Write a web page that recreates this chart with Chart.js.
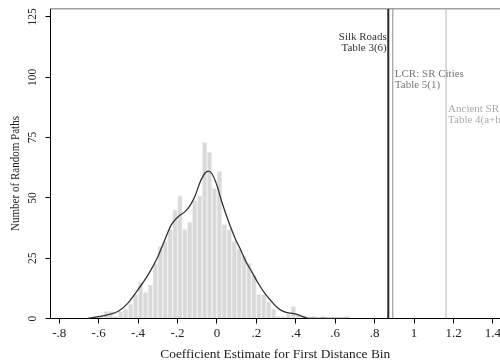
<!DOCTYPE html>
<html><head><meta charset="utf-8">
<script src="https://cdn.jsdelivr.net/npm/chart.js@4.4.1/dist/chart.umd.min.js"></script>
<style>html,body{margin:0;padding:0;background:#fff;overflow:hidden}</style>
</head><body>
<canvas id="c" width="500" height="364"></canvas>
<script>
// ---- data ----
const binStart = -0.625;
const binWidth = 0.025;
const binCounts = [1,1,3,3,1,3,4,6,10,15,11,14,23,30,32,37,45,51,37,40,49,51,73,69,54,61,39,37,32,29,26,23,18,10,10,7,4,1,1,2,5,2,1,0,1,0,1,0,0,0,0,1];
const densityX = [-0.655,-0.6,-0.55,-0.5,-0.45,-0.4,-0.35,-0.3,-0.26,-0.23,-0.195,-0.16,-0.135,-0.11,-0.085,-0.06,-0.043,-0.025,0,0.025,0.06,0.093,0.118,0.144,0.178,0.211,0.245,0.28,0.313,0.347,0.39,0.423,0.46,0.5,0.66];
const densityY = [0,0.8,1.6,3.0,6.5,12,18,25.5,33.5,39,42.3,44.4,47,51,56.6,60.3,61.1,60,55.2,48.3,40,33.1,28.9,24.1,19.2,14.4,10.2,6.8,4.0,2.6,2.0,1.2,0.2,0,0];
const refValues = [0.869, 0.892, 1.162];
const refNames = ['Silk Roads', 'LCR: SR Cities', 'Ancient SR'];
const refTables = ['Table 3(6)', 'Table 5(1)', 'Table 4(a+b)'];
const xTicks = [-0.8,-0.6,-0.4,-0.2,0,0.2,0.4,0.6,0.8,1,1.2,1.4];
const xTickLabels = ['-.8','-.6','-.4','-.2','0','.2','.4','.6','.8','1','1.2','1.4'];
const yTicks = [0,25,50,75,100,125];
const xTitle = 'Coefficient Estimate for First Distance Bin';
const yTitle = 'Number of Random Paths';

// ---- build ----
const X_MIN = -0.844, X_MAX = 1.4356, Y_MIN = 0, Y_MAX = 128.3;
const FONT = 'Liberation Serif';
const barData = [];
binCounts.forEach((c, i) => { if (c > 0) barData.push({x: binStart + (i + 0.5) * binWidth, y: c}); });
const densityData = densityX.map((x, i) => ({x, y: densityY[i]}));
const refStyles = [
  {line: '#2a2a2a', w: 2, text: '#333333', align: 'right', dx: -1.5, y: 116.6},
  {line: '#8a8a8a', w: 1, text: '#777777', align: 'left', dx: 2, y: 101.5},
  {line: '#b4b4b4', w: 1, text: '#aaaaaa', align: 'left', dx: 2, y: 86.6}
];
const refDatasets = refValues.map((v, i) => ({
  type: 'line', data: [{x: v, y: Y_MIN}, {x: v, y: Y_MAX}],
  borderColor: refStyles[i].line, borderWidth: refStyles[i].w, pointRadius: 0, order: 0
}));

const labelPlugin = {
  id: 'refLabels',
  afterDatasetsDraw(chart) {
    const {ctx, scales: {x, y}} = chart;
    ctx.save();
    ctx.font = '11px "' + FONT + '"';
    ctx.textBaseline = 'middle';
    refValues.forEach((v, i) => {
      const s = refStyles[i];
      const px = x.getPixelForValue(v) + s.dx;
      const py = y.getPixelForValue(s.y);
      ctx.fillStyle = s.text;
      ctx.textAlign = s.align;
      ctx.fillText(refNames[i], px, py);
      ctx.fillText(refTables[i], px, py + 11);
    });
    ctx.restore();
  },
  afterDraw(chart) {
    const {ctx} = chart;
    ctx.save();
    ctx.translate(15.5, 173.5);
    ctx.rotate(-Math.PI / 2);
    ctx.font = '13px "' + FONT + '"';
    ctx.fillStyle = '#222';
    ctx.textAlign = 'center';
    ctx.textBaseline = 'middle';
    ctx.fillText(yTitle, 0, 0, 115);
    ctx.restore();
  }
};

const noPad = (s) => { s.paddingLeft = 0; s.paddingRight = 0; s.paddingTop = 0; s.paddingBottom = 0; };

new Chart(document.getElementById('c'), {
  type: 'bar',
  data: {
    datasets: [
      {type: 'bar', data: barData, backgroundColor: '#d9d9d9', borderColor: '#f0f0f0', borderWidth: 1,
       barPercentage: 1, categoryPercentage: 1, order: 2},
      {type: 'line', data: densityData, borderColor: '#333333', borderWidth: 1.3, pointRadius: 0,
       cubicInterpolationMode: 'monotone', order: 1},
      ...refDatasets
    ]
  },
  options: {
    responsive: false, animation: false, devicePixelRatio: 1,
    layout: {padding: {top: 9, left: 0, right: 0, bottom: 0}},
    plugins: {legend: {display: false}, tooltip: {enabled: false}},
    scales: {
      x: {
        type: 'linear', min: X_MIN, max: X_MAX, offset: false,
        afterBuildTicks: (s) => { s.ticks = xTicks.map(v => ({value: v})); },
        ticks: {
          callback: (v) => { const i = xTicks.findIndex(t => Math.abs(t - v) < 1e-9); return i >= 0 ? xTickLabels[i] : ''; },
          color: '#222', font: {family: FONT, size: 13}, padding: 2, maxRotation: 0, minRotation: 0
        },
        grid: {drawOnChartArea: false, drawTicks: true, tickLength: 5, color: '#000', offset: false},
        border: {color: '#000', width: 1},
        title: {display: true, text: xTitle, color: '#222',
                font: {family: FONT, size: 13.4}, padding: {top: 0, bottom: 1.5}},
        afterFit: (s) => { noPad(s); s.height = 45.5; }
      },
      xt: {
        type: 'linear', position: 'top', min: X_MIN, max: X_MAX, offset: false,
        ticks: {display: false}, grid: {display: false, drawTicks: false},
        border: {display: true, color: '#a0a0a0', width: 1.6},
        afterFit: (s) => { noPad(s); s.height = 0; }
      },
      y: {
        type: 'linear', min: Y_MIN, max: Y_MAX,
        afterBuildTicks: (s) => { s.ticks = yTicks.map(v => ({value: v})); },
        ticks: {color: '#222', font: {family: FONT, size: 11.5}, padding: 4, minRotation: 90, maxRotation: 90, crossAlign: 'center'},
        grid: {drawOnChartArea: false, drawTicks: true, tickLength: 5, color: '#000'},
        border: {color: '#000', width: 1},
        title: {display: false},
        afterFit: (s) => { noPad(s); s.width = 50.5; }
      }
    }
  },
  plugins: [labelPlugin]
});
</script>
</body></html>
